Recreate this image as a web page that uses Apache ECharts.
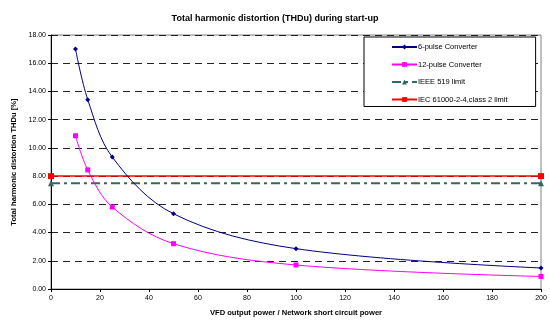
<!DOCTYPE html>
<html>
<head>
<meta charset="utf-8">
<script src="https://cdn.jsdelivr.net/npm/echarts@6/dist/echarts.min.js"></script>
<style>
  html, body { margin: 0; padding: 0; background: #fff; }
  #chart { width: 550px; height: 322px; }
</style>
</head>
<body>
<div id="chart"></div>
<script>
// ratio VFD power / network short circuit power
var ratios = [10, 15, 25, 50, 100, 200];
var pulse6 = [17.0, 13.42, 9.35, 5.33, 2.86, 1.49];
var pulse12 = [10.86, 8.44, 5.81, 3.21, 1.70, 0.89];
var limitX = [0, 200];
var ieeeLimit = [7.5, 7.5];
var iecLimit = [8.0, 8.0];

function pairs(xs, ys) {
  return xs.map(function (x, i) { return [x, ys[i]]; });
}

var chart = echarts.init(document.getElementById('chart'));
var fontFamily = '"Liberation Sans", Arial, sans-serif';

var option = {
  animation: false,
  textStyle: { fontFamily: fontFamily },
  title: {
    text: 'Total harmonic distortion (THDu) during start-up',
    left: 'center',
    top: 9,
    textStyle: { fontSize: 9, fontWeight: 'bold', color: '#000', fontFamily: fontFamily }
  },
  legend: {
    orient: 'vertical',
    left: 364,
    top: 37,
    padding: [6, 28, 3, 27],
    itemWidth: 25,
    itemHeight: 6,
    itemGap: 9.5,
    borderColor: '#000',
    borderWidth: 1,
    backgroundColor: '#fff',
    textStyle: { fontSize: 7.5, color: '#000', fontFamily: fontFamily, padding: [0, 0, 0, -4] },
    data: ['6-pulse Converter', '12-pulse Converter', 'IEEE 519 limit', 'IEC 61000-2-4,class 2 limit']
  },
  grid: {
    left: 51, right: 9, top: 35, bottom: 29,
    show: true,
    borderColor: '#808080',
    borderWidth: 1,
    backgroundColor: '#fff'
  },
  xAxis: {
    type: 'value',
    min: 0, max: 200, interval: 20,
    name: 'VFD output power / Network short circuit power',
    nameLocation: 'middle',
    nameGap: 20,
    nameTextStyle: { fontSize: 7.6, fontWeight: 'bold', color: '#000' },
    axisLine: { show: true, lineStyle: { color: '#000', width: 1 } },
    axisTick: { show: true, length: 3, lineStyle: { color: '#000' } },
    axisLabel: { fontSize: 7, color: '#000', margin: 6 },
    splitLine: { show: false }
  },
  yAxis: {
    type: 'value',
    min: 0, max: 18, interval: 2,
    name: 'Total harmonic distortion THDu [%]',
    nameLocation: 'middle',
    nameGap: 33,
    nameRotate: 90,
    nameTextStyle: { fontSize: 7.6, fontWeight: 'bold', color: '#000' },
    axisLine: { show: true, lineStyle: { color: '#000', width: 1 } },
    axisTick: { show: true, length: 3, lineStyle: { color: '#000' } },
    axisLabel: {
      fontSize: 7, color: '#000', margin: 5,
      formatter: function (v) { return v.toFixed(2); }
    },
    splitLine: { show: true, lineStyle: { color: '#222', width: 1, type: [7, 5] } }
  },
  series: [
    {
      name: '6-pulse Converter',
      type: 'line',
      smooth: 0.35,
      data: pairs(ratios, pulse6),
      symbol: 'diamond',
      symbolSize: 5,
      itemStyle: { color: '#000080' },
      lineStyle: { color: '#000080', width: 1 },
      z: 4
    },
    {
      name: '12-pulse Converter',
      type: 'line',
      smooth: 0.35,
      data: pairs(ratios, pulse12),
      symbol: 'rect',
      symbolSize: 5,
      itemStyle: { color: '#ff00ff' },
      lineStyle: { color: '#ff00ff', width: 1 },
      z: 4
    },
    {
      name: 'IEEE 519 limit',
      type: 'line',
      data: pairs(limitX, ieeeLimit),
      symbol: 'triangle',
      symbolSize: 6,
      itemStyle: { color: '#336666' },
      lineStyle: { color: '#336666', width: 2, type: [9, 4, 3, 4] },
      z: 3
    },
    {
      name: 'IEC 61000-2-4,class 2 limit',
      type: 'line',
      data: pairs(limitX, iecLimit),
      symbol: 'rect',
      symbolSize: 6,
      itemStyle: { color: '#ff0000' },
      lineStyle: { color: '#ff0000', width: 1.5 },
      z: 3
    }
  ]
};

chart.setOption(option);
</script>
</body>
</html>
